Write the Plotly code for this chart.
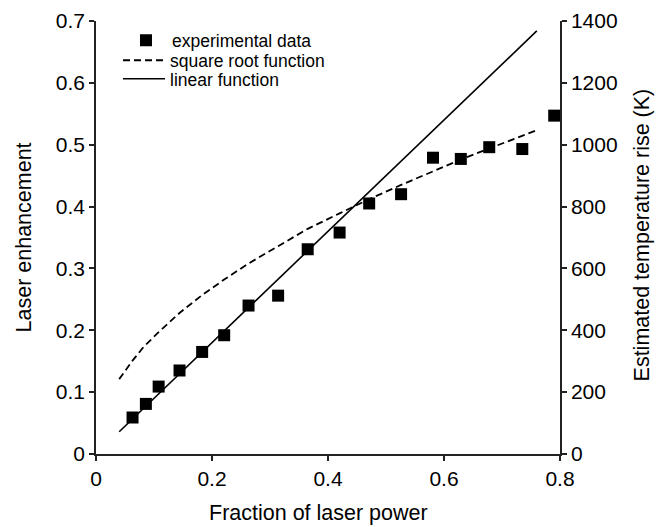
import plotly.graph_objects as go

# Experimental data (fraction of laser power, laser enhancement)
exp_x = [0.063, 0.086, 0.108, 0.144, 0.183, 0.221, 0.263, 0.314, 0.365, 0.420,
         0.471, 0.526, 0.581, 0.629, 0.678, 0.735, 0.790]
exp_y = [0.059, 0.081, 0.109, 0.135, 0.165, 0.192, 0.240, 0.256, 0.331, 0.358,
         0.405, 0.420, 0.479, 0.477, 0.496, 0.493, 0.547]

# Square root function
sqrt_x = [0.040, 0.063, 0.082, 0.108, 0.144, 0.183, 0.221, 0.263, 0.314, 0.365,
          0.420, 0.471, 0.526, 0.581, 0.629, 0.678, 0.735, 0.759]
sqrt_y = [0.121, 0.151, 0.173, 0.197, 0.228, 0.257, 0.282, 0.308, 0.336, 0.364,
          0.389, 0.412, 0.435, 0.457, 0.476, 0.494, 0.514, 0.523]

# Linear function (end points of the solid line)
lin_x = [0.040, 0.760]
lin_y = [0.036, 0.684]

x_ticks = [0, 0.2, 0.4, 0.6, 0.8]
x_ticklabels = ["0", "0.2", "0.4", "0.6", "0.8"]
y_ticks = [0, 0.1, 0.2, 0.3, 0.4, 0.5, 0.6, 0.7]
y_ticklabels = ["0", "0.1", "0.2", "0.3", "0.4", "0.5", "0.6", "0.7"]
y2_ticks = [0, 200, 400, 600, 800, 1000, 1200, 1400]
y2_ticklabels = ["0", "200", "400", "600", "800", "1000", "1200", "1400"]

FONT = "Arial, Liberation Sans, sans-serif"
AX = "#222222"
TICK_SIZE = 21
TITLE_SIZE = 21.5
LEG_SIZE = 17.5

fig = go.Figure()
fig.add_trace(go.Scatter(
    x=exp_x, y=exp_y, mode="markers", name="experimental data",
    marker=dict(symbol="square", size=12, color="black"),
    legend="legend"))
fig.add_trace(go.Scatter(
    x=sqrt_x, y=sqrt_y, mode="lines", name="square root function",
    line=dict(color="black", width=1.8, dash="7px,4px"),
    legend="legend2"))
fig.add_trace(go.Scatter(
    x=lin_x, y=lin_y, mode="lines", name="linear function",
    line=dict(color="black", width=1.6),
    legend="legend3"))
fig.add_trace(go.Scatter(
    x=[None], y=[None], yaxis="y2", showlegend=False, hoverinfo="skip"))

leg_common = dict(xanchor="left", yanchor="top", bgcolor="rgba(0,0,0,0)",
                  font=dict(size=LEG_SIZE, family=FONT, color="black"),
                  itemwidth=42, borderwidth=0)

fig.update_layout(
    width=663, height=527,
    margin=dict(l=96, r=103, t=21, b=73, autoexpand=False),
    paper_bgcolor="white", plot_bgcolor="white",
    font=dict(family=FONT, size=TICK_SIZE, color="black"),
    showlegend=True,
    legend=dict(x=0.0517, y=0.9967, **leg_common),
    legend2=dict(x=0.0474, y=0.9506, **leg_common),
    legend3=dict(x=0.0474, y=0.9080, **leg_common),
    xaxis=dict(
        range=[0, 0.8], tickvals=x_ticks, ticktext=x_ticklabels,
        showline=True, linecolor=AX, linewidth=1.5,
        ticks="outside", ticklen=5, tickcolor=AX, tickwidth=1.5,
        showgrid=False, zeroline=False, automargin=False,
    ),
    yaxis=dict(
        range=[0, 0.7], tickvals=y_ticks, ticktext=y_ticklabels,
        showline=True, linecolor=AX, linewidth=1.5,
        ticks="outside", ticklen=5, tickcolor=AX, tickwidth=1.5,
        showgrid=False, zeroline=False, automargin=False,
    ),
    yaxis2=dict(
        range=[0, 1400], tickvals=y2_ticks, ticktext=y2_ticklabels,
        overlaying="y", side="right",
        showline=True, linecolor=AX, linewidth=1.5,
        ticks="outside", ticklen=5, tickcolor=AX, tickwidth=1.5,
        showgrid=False, zeroline=False, automargin=False,
    ),
    annotations=[
        dict(text="Fraction of laser power", xref="paper", yref="paper",
             x=0.48, y=-0.1363, xanchor="center", yanchor="middle",
             showarrow=False, borderpad=0, font=dict(size=TITLE_SIZE)),
        dict(text="Laser enhancement", xref="paper", yref="paper",
             x=-0.1552, y=0.5, xanchor="center", yanchor="middle",
             textangle=-90, showarrow=False, borderpad=0,
             font=dict(size=TITLE_SIZE)),
        dict(text="Estimated temperature rise (K)", xref="paper", yref="paper",
             x=1.1767, y=0.507, xanchor="center", yanchor="middle",
             textangle=-90, showarrow=False, borderpad=0,
             font=dict(size=TITLE_SIZE)),
    ],
)

fig.write_html(
    "out.html",
    config={"displayModeBar": False},
    post_script="document.body.style.margin='0px';document.body.style.overflow='hidden';",
)
